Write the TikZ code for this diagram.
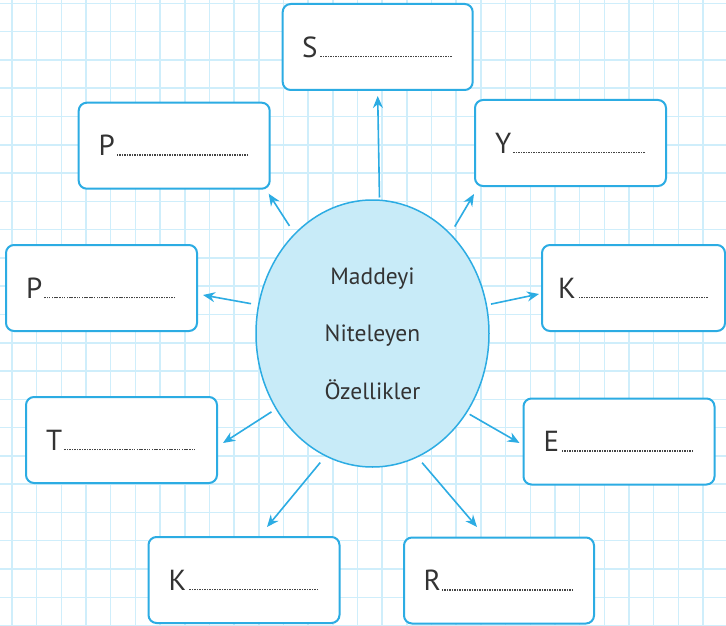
\documentclass[tikz,border=0pt]{standalone}
\usepackage{fontspec}
\setmainfont{PT Sans}
\usetikzlibrary{arrows.meta,shapes}
\definecolor{lineblue}{HTML}{2CACE3}
\definecolor{gridblue}{HTML}{CFEEFB}
\definecolor{bubble}{HTML}{C8EBF8}
\definecolor{dotgray}{HTML}{444444}
\definecolor{ink}{HTML}{333333}
\tikzstyle{answerbox}=[rectangle,rounded corners=8pt,draw=lineblue,line width=2pt,fill=white,minimum height=86pt,inner sep=0pt,font=\fontsize{29}{29}\selectfont,text=ink]
\tikzstyle{bubblenode}=[ellipse,draw=lineblue,line width=1.5pt,fill=bubble,minimum width=233pt,minimum height=267pt,inner sep=0pt,align=center,font=\fontsize{23.5}{57.5}\selectfont,text=ink]
\tikzstyle{edge}=[draw,line width=1.6pt,lineblue,-{Stealth[length=12pt,width=10pt]}]
\tikzstyle{gridline}=[gridblue,line width=1.5pt]
\newcommand{\blank}[1]{\makebox[151pt][l]{#1\leaders\hbox to 2.5pt{\hss\textcolor{dotgray}{\rule{1.5pt}{1.5pt}}\hss}\hfill}}

\begin{document}
\begin{tikzpicture}[x=1pt,y=-1pt]

    \useasboundingbox (0,0) rectangle (726,626);
    \fill[white] (0,0) rectangle (726,626);

    \foreach \i in {0,...,28}
        \draw[gridline] (12+24.68*\i,0) -- (12+24.68*\i,626);
    \foreach \j in {0,...,22}
        \draw[gridline] (0,3.4+28.28*\j) -- (726,3.4+28.28*\j);

    \node[bubblenode] (ell) at (372.5,333.5) {Maddeyi\\Niteleyen\\Özellikler};

    \foreach \x/\y/\w/\name/\ltr in {377.7/47/190/sbox/S, 174.2/145.7/191/ptbox/P, 570.5/143/191/ybox/Y, 101.5/288/191/plbox/P, 633.5/288/183/krbox/K, 619/441.5/191/ebox/E, 121.5/440/191/tbox/T, 244/580/191/kbbox/K, 499/580.5/190/rbox/R}
        \node[answerbox, minimum width=\w pt] (\name) at (\x,\y) {\blank{\ltr}};

    \foreach \ang/\sh/\dest/\dx/\dy in {87.7/2/sbox.south/0/5, 128.7/9/ptbox.south east/-2/4, 52/8/ybox.south west/0/7, 166.2/7/plbox.east/5/7, 14.1/4/krbox.west/-2/6, 320.8/3/ebox.west/-3/1.5, 218.6/5/tbox.east/5/3, 249.1/8/kbbox.north/23/-9, 290.1/7/rbox.north/-22/-9.5}
        \path[edge, shorten <=\sh pt] (ell.\ang) -- ([shift={(\dx,\dy)}]\dest);

\end{tikzpicture}
\end{document}
